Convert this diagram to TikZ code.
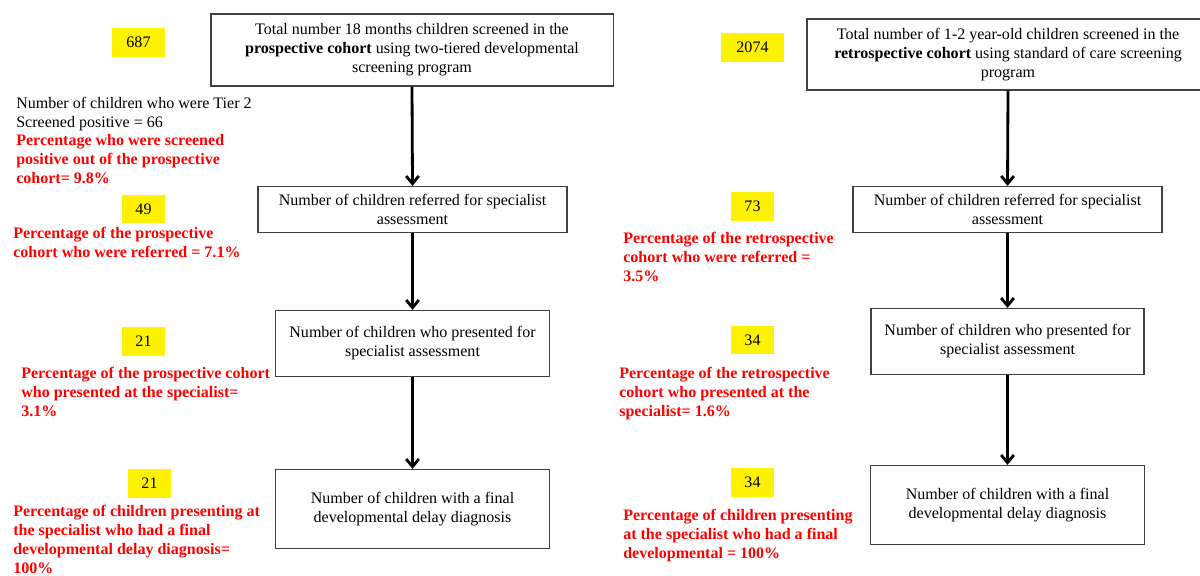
\documentclass[tikz,border=0pt]{standalone}
\usepackage{fontspec}
\setmainfont{Liberation Serif}
\usepackage{tikz}
\usetikzlibrary{arrows.meta}

\tikzset{
    flowbox/.style={draw=black!75, line width=0.8pt, align=center, inner sep=0pt,
        font=\rmfamily\fontsize{11.4}{13.5}\selectfont},
    countbox/.style={fill=yellow, inner sep=0pt, minimum height=0.72cm,
        font=\rmfamily\fontsize{11.4}{13.5}\selectfont},
    note/.style={anchor=north west, align=left, inner sep=0pt,
        font=\rmfamily\fontsize{11.4}{13.5}\selectfont},
    pctnote/.style={note, text=red, font=\rmfamily\fontsize{11.4}{13.5}\selectfont\bfseries},
    flowarrow/.style={line width=2pt, -{Straight Barb[length=5.5pt,width=9pt]}}
}

\begin{document}
\begin{tikzpicture}[x=0.025cm, y=-0.025cm]
        \useasboundingbox (0,0) rectangle (1200,575);

        % Prospective cohort
        \node[flowbox, minimum width=10.05cm, minimum height=1.8cm] (pTotal) at (412,50)
            {Total number 18 months children screened in the\\
             \textbf{prospective cohort} using two-tiered developmental\\
             screening program};
        \node[flowbox, minimum width=7.725cm, minimum height=1.15cm] (pRef) at (412.5,209.5)
            {Number of children referred for specialist\\assessment};
        \node[flowbox, minimum width=6.85cm, minimum height=1.65cm] (pPres) at (412.5,343.5)
            {Number of children who presented for\\specialist assessment};
        \node[flowbox, minimum width=6.85cm, minimum height=1.975cm] (pDiag) at (412.5,509)
            {Number of children with a final\\developmental delay diagnosis};

        % Counts
        \node[countbox, minimum width=1.325cm] (pN1) at (138.5,42.5) {687};
        \node[countbox, minimum width=1.075cm] (pN2) at (143.5,209) {49};
        \node[countbox, minimum width=1.075cm] (pN3) at (143.5,341.5) {21};
        \node[countbox, minimum width=1.075cm] (pN4) at (149.5,483.5) {21};

        % Percentages
        \node[note] (pTier) at (16,97)
            {Number of children who were Tier 2\\Screened positive = 66};
        \node[pctnote] (pPos) at (16,134)
            {Percentage who were screened\\positive out of the prospective\\cohort= 9.8\%};
        \node[pctnote] (pRefPct) at (13,227)
            {Percentage of the prospective\\cohort who were referred = 7.1\%};
        \node[pctnote] (pPresPct) at (21,367)
            {Percentage of the prospective cohort\\who presented at the specialist=\\3.1\%};
        \node[pctnote] (pDiagPct) at (13,505)
            {Percentage of children presenting at\\the specialist who had a final\\developmental delay diagnosis=\\100\%};

        % Retrospective cohort
        \node[flowbox, minimum width=10.05cm, minimum height=1.775cm] (rTotal) at (1008,54.5)
            {Total number of 1-2 year-old children screened in the\\
             \textbf{retrospective cohort} using standard of care screening\\
             program};
        \node[flowbox, minimum width=7.725cm, minimum height=1.15cm] (rRef) at (1007.5,209.5)
            {Number of children referred for specialist\\assessment};
        \node[flowbox, minimum width=6.825cm, minimum height=1.65cm] (rPres) at (1007.5,341.5)
            {Number of children who presented for\\specialist assessment};
        \node[flowbox, minimum width=6.85cm, minimum height=1.975cm] (rDiag) at (1007.5,505)
            {Number of children with a final\\developmental delay diagnosis};

        % Counts
        \node[countbox, minimum width=1.575cm] (rN1) at (752.5,47.5) {2074};
        \node[countbox, minimum width=1.075cm] (rN2) at (752.5,206.5) {73};
        \node[countbox, minimum width=1.075cm] (rN3) at (752.5,340) {34};
        \node[countbox, minimum width=1.075cm] (rN4) at (752.5,482.5) {34};

        % Percentages
        \node[pctnote] (rRefPct) at (623,232)
            {Percentage of the retrospective\\cohort who were referred =\\3.5\%};
        \node[pctnote] (rPresPct) at (619,367)
            {Percentage of the retrospective\\cohort who presented at the\\specialist= 1.6\%};
        \node[pctnote] (rDiagPct) at (623,509)
            {Percentage of children presenting\\at the specialist who had a final\\developmental = 100\%};

        % Arrows
        \foreach \a/\b in {pTotal/pRef, pRef/pPres, pPres/pDiag, rTotal/rRef, rRef/rPres, rPres/rDiag}
            \draw[flowarrow] (\a.south) -- (\b.north);
\end{tikzpicture}
\end{document}
